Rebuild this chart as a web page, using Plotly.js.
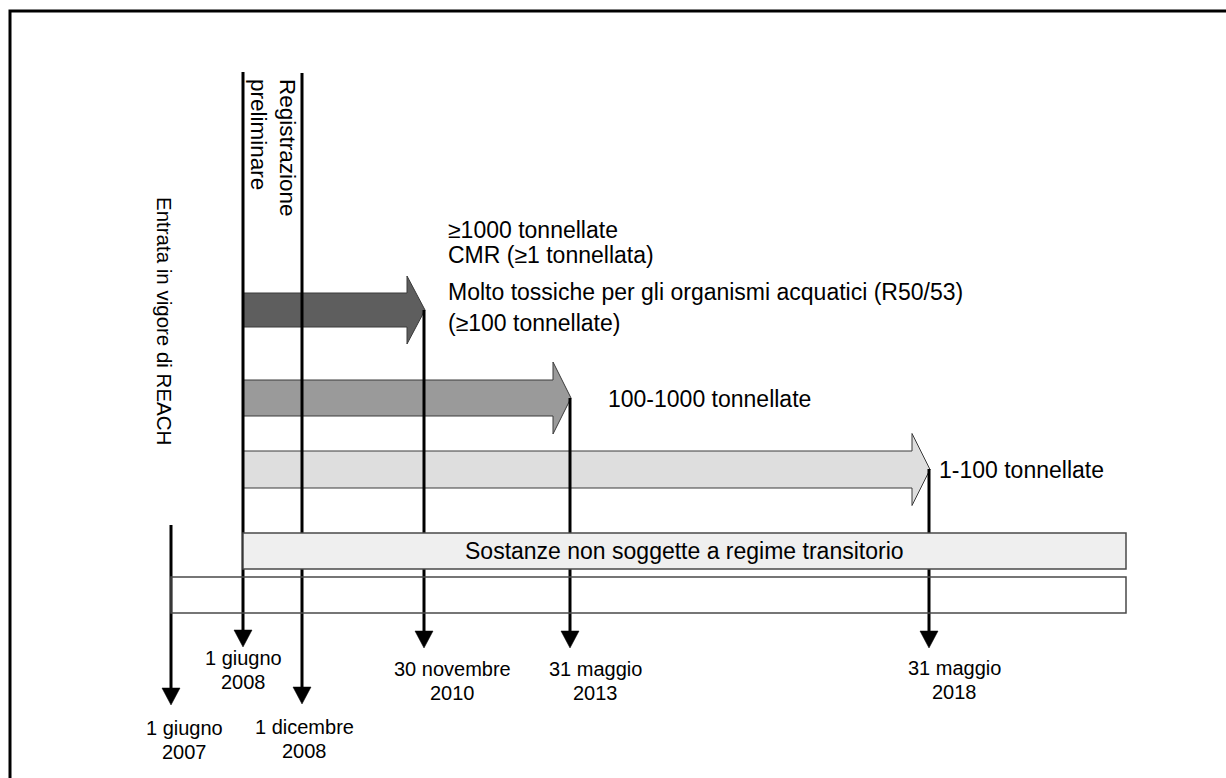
<!DOCTYPE html>
<html>
<head>
<meta charset="utf-8">
<script src="https://cdn.plot.ly/plotly-3.0.1.min.js"></script>
<style>html,body{margin:0;padding:0;background:#fff;}#chart{width:1226px;height:778px;}</style>
</head>
<body>
<div id="chart"></div>
<script>
// ---- content (values / labels) ----
const milestoneDays  = ["1 giugno", "1 giugno", "1 dicembre", "30 novembre", "31 maggio", "31 maggio"];
const milestoneYears = ["2007", "2008", "2008", "2010", "2013", "2018"];
const milestoneEvents = ["Entrata in vigore di REACH", "Registrazione<br>preliminare"];
const tierLabels = ["≥1000 tonnellate", "CMR (≥1 tonnellata)",
                    "Molto tossiche per gli organismi acquatici (R50/53)", "(≥100 tonnellate)"];
const tier2Label = "100-1000 tonnellate";
const tier3Label = "1-100 tonnellate";
const barLabel = "Sostanze non soggette a regime transitorio";
// which milestone each registration tier ends at
const tierDeadline = [3, 4, 5];

// ---- schematic layout (positions on the diagram scale) ----
const W = 1226, H = 778;
const msX     = [171, 243, 302, 424, 570, 929];
const msTop   = [525, 72, 73, 310, 398, 469];
const msTip   = [705, 647, 704, 648, 648, 648];
const msLblX  = [184, 243.5, 304.5, 452, 595, 954.5];
const msLblY  = [740, 670, 738.5, 680.5, 680.5, 680];
const arrowY  = [310, 398, 469.5];
const arrowBody = [17, 18, 18.5];
const arrowHead = [34, 36, 36];
const arrowFill = ["#5e5e5e", "#9a9a9a", "#dedede"];

const shapes = [];
// frame
shapes.push({type: "path", xref: "x", yref: "y", path: `M10,${H} L10,11 L${W},11`,
             line: {color: "#000", width: 3}});
// block arrows
tierDeadline.forEach((m, i) => {
  const x0 = msX[1], tip = msX[m] + 1, base = tip - 18, yc = arrowY[i];
  const b = arrowBody[i], h = arrowHead[i];
  shapes.push({type: "path", xref: "x", yref: "y",
    path: `M${x0},${yc - b} L${base},${yc - b} L${base},${yc - h} L${tip},${yc} L${base},${yc + h} L${base},${yc + b} L${x0},${yc + b} Z`,
    fillcolor: arrowFill[i], line: {color: "#3a3a3a", width: 1}});
});
// milestone lines + arrowheads
msX.forEach((x, i) => {
  shapes.push({type: "line", xref: "x", yref: "y", x0: x, x1: x, y0: msTop[i], y1: msTip[i] - 14,
               line: {color: "#000", width: 3}});
  shapes.push({type: "path", xref: "x", yref: "y",
               path: `M${x - 9},${msTip[i] - 17} L${x + 9},${msTip[i] - 17} L${x},${msTip[i]} Z`,
               fillcolor: "#000", line: {color: "#000", width: 0.5}});
});
// bars
shapes.push({type: "rect", xref: "x", yref: "y", x0: msX[1], x1: 1126, y0: 533, y1: 569,
             fillcolor: "#efefef", line: {color: "#4a4a4a", width: 1.5}});
shapes.push({type: "rect", xref: "x", yref: "y", x0: msX[0], x1: 1126, y0: 577, y1: 613,
             fillcolor: "rgba(0,0,0,0)", line: {color: "#4a4a4a", width: 1.5}});

const FONT = "Liberation Sans, Arial, sans-serif";
const annotations = [];
msX.forEach((x, i) => {
  [milestoneDays[i], milestoneYears[i]].forEach((t, k) => {
    annotations.push({x: msLblX[i], y: msLblY[i] + (k === 0 ? -12 : 12), xref: "x", yref: "y", text: t,
      showarrow: false, xanchor: "center", yanchor: "middle", align: "center",
      font: {family: FONT, size: 20, color: "#000"}});
  });
});
annotations.push({x: 165, y: 321, xref: "x", yref: "y", text: milestoneEvents[0], textangle: 90,
  showarrow: false, xanchor: "center", yanchor: "middle",
  font: {family: FONT, size: 20.5, color: "#000"}});
annotations.push({x: 273, y: 77, xref: "x", yref: "y", text: milestoneEvents[1], textangle: 90,
  showarrow: false, xanchor: "center", yanchor: "top", align: "left",
  font: {family: FONT, size: 22.5, color: "#000"}});
const tierY = [229.5, 255, 291.5, 322.5];
tierLabels.forEach((t, i) => {
  annotations.push({x: 446, y: tierY[i], xref: "x", yref: "y", text: t, showarrow: false,
    xanchor: "left", yanchor: "middle", font: {family: FONT, size: 23, color: "#000"}});
});
annotations.push({x: 606, y: 399, xref: "x", yref: "y", text: tier2Label, showarrow: false,
  xanchor: "left", yanchor: "middle", font: {family: FONT, size: 23, color: "#000"}});
annotations.push({x: 937, y: 470, xref: "x", yref: "y", text: tier3Label, showarrow: false,
  xanchor: "left", yanchor: "middle", font: {family: FONT, size: 23, color: "#000"}});
annotations.push({x: 684, y: 551, xref: "x", yref: "y", text: barLabel, showarrow: false,
  xanchor: "center", yanchor: "middle", font: {family: FONT, size: 23, color: "#000"}});

const layout = {
  width: W, height: H,
  margin: {l: 0, r: 0, t: 0, b: 0},
  paper_bgcolor: "#fff", plot_bgcolor: "#fff",
  showlegend: false,
  xaxis: {range: [0, W], visible: false, fixedrange: true},
  yaxis: {range: [H, 0], visible: false, fixedrange: true},
  shapes: shapes,
  annotations: annotations
};
Plotly.newPlot("chart", [{x: [], y: [], type: "scatter", mode: "markers", hoverinfo: "skip"}], layout,
  {staticPlot: true, displayModeBar: false});
</script>
</body>
</html>
